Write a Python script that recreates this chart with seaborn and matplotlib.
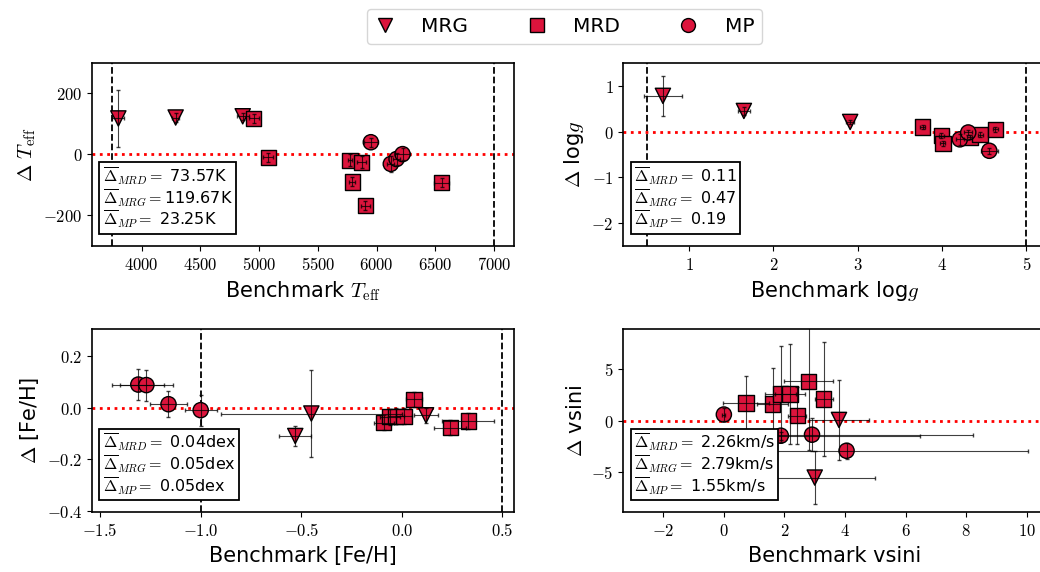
import numpy as np
import pandas as pd
import matplotlib
matplotlib.use("Agg")
import matplotlib.pyplot as plt
from matplotlib.lines import Line2D
from matplotlib.ticker import FuncFormatter
import seaborn as sns

##################################################################
# Data
##################################################################
groups = ['MRG', 'MRD', 'MP']
group_markers = {'MRG': 'v', 'MRD': 's', 'MP': 'o'}

# Teff panel
teff_group = ['MRG', 'MRG', 'MRG', 'MRD', 'MRD', 'MRD', 'MRD', 'MRD', 'MRD', 'MRD', 'MP', 'MP', 'MP', 'MP']
teff_x = [3801, 4289, 4860, 4955, 5077, 5773, 5872, 5793, 5903, 6553, 5951, 6121, 6170, 6221]
teff_y = [118, 121, 125, 118, -10, -19, -26, -90, -168, -92, 40, -31, -15, 1]
teff_xerr = [50, 30, 50, 40, 40, 20, 40, 25, 40, 60, 60, 30, 30, 60]
teff_yerr = [92, 15, 12, 15, 15, 20, 20, 15, 15, 15, 15, 25, 20, 20]

# logg panel
logg_group = ['MRG', 'MRG', 'MRG', 'MRD', 'MRD', 'MRD', 'MRD', 'MRD', 'MRD', 'MP', 'MP', 'MP']
logg_x = [0.69, 1.65, 2.91, 3.77, 3.99, 4.01, 4.33, 4.45, 4.63, 4.21, 4.31, 4.56]
logg_y = [0.78, 0.45, 0.21, 0.10, -0.09, -0.26, -0.12, -0.07, 0.05, -0.17, -0.02, -0.42]
logg_xerr = [0.23, 0.07, 0.05, 0.03, 0.03, 0.03, 0.03, 0.03, 0.03, 0.05, 0.05, 0.10]
logg_yerr = [0.44, 0.08, 0.05, 0.05, 0.05, 0.06, 0.05, 0.05, 0.05, 0.12, 0.05, 0.06]

# [Fe/H] panel
feh_group = ['MP', 'MP', 'MP', 'MP', 'MRG', 'MRG', 'MRG', 'MRD', 'MRD', 'MRD', 'MRD', 'MRD', 'MRD', 'MRD']
feh_x = [-1.31, -1.27, -1.16, -1.00, -0.53, -0.45, 0.12, -0.09, -0.06, -0.03, 0.01, 0.06, 0.24, 0.33]
feh_y = [0.089, 0.087, 0.013, -0.010, -0.11, -0.023, -0.03, -0.058, -0.036, -0.033, -0.033, 0.032, -0.078, -0.052]
feh_xerr = [0.13, 0.13, 0.09, 0.08, 0.08, 0.45, 0.06, 0.05, 0.05, 0.04, 0.04, 0.04, 0.08, 0.13]
feh_yerr = [0.06, 0.06, 0.05, 0.06, 0.04, 0.17, 0.03, 0.03, 0.03, 0.03, 0.03, 0.03, 0.03, 0.03]

# vsini panel
vsini_group = ['MP', 'MP', 'MP', 'MP', 'MRD', 'MRD', 'MRD', 'MRD', 'MRD', 'MRD', 'MRD', 'MRG', 'MRG']
vsini_x = [0.0, 1.88, 2.91, 4.05, 0.73, 1.61, 1.87, 2.18, 2.42, 2.80, 3.30, 3.80, 3.00]
vsini_y = [0.6, -1.47, -1.37, -2.94, 1.73, 1.63, 2.60, 2.60, 0.49, 3.85, 2.12, 0.07, -5.56]
vsini_xerr = [0.05, 4.6, 5.3, 6.0, 0.76, 0.5, 0.5, 0.5, 0.3, 0.8, 0.3, 1.0, 2.0]
vsini_yerr = [0.6, 0.4, 1.6, 0.8, 2.6, 3.5, 4.7, 4.9, 2.8, 6.7, 5.6, 3.9, 2.6]

# Mean offsets quoted in the boxes
teff_box = [r"$\overline{\Delta}_{MRD}=$ 73.57K", r"$\overline{\Delta}_{MRG}=$119.67K", r"$\overline{\Delta}_{MP}=$ 23.25K"]
logg_box = [r"$\overline{\Delta}_{MRD}=$ 0.11", r"$\overline{\Delta}_{MRG}=$ 0.47", r"$\overline{\Delta}_{MP}=$ 0.19"]
feh_box = [r"$\overline{\Delta}_{MRD}=$ 0.04dex", r"$\overline{\Delta}_{MRG}=$ 0.05dex", r"$\overline{\Delta}_{MP}=$ 0.05dex"]
vsini_box = [r"$\overline{\Delta}_{MRD}=$ 2.26km/s", r"$\overline{\Delta}_{MRG}=$ 2.79km/s", r"$\overline{\Delta}_{MP}=$ 1.55km/s"]

##################################################################
# Style
##################################################################
sns.set_style('ticks', {'axes.edgecolor': 'black', 'xtick.color': 'black', 'ytick.color': 'black',
                        'text.color': 'black', 'axes.labelcolor': 'black'})
plt.rcParams['font.family'] = ['DejaVu Sans']
plt.rcParams['mathtext.fontset'] = 'cm'
plt.rcParams['axes.linewidth'] = 1.2

point_color = '#DC143C'


def panel(ax, group, x, y, xerr, yerr, vlines, xlim, ylim, xlabel, ylabel, box, xfmt, yfmt):
    df = pd.DataFrame({'group': group, 'x': x, 'y': y, 'xerr': xerr, 'yerr': yerr})
    sns.scatterplot(data=df, x='x', y='y', style='group', markers=group_markers,
                    color=point_color, edgecolor='black', linewidth=1.0, s=120,
                    legend=False, ax=ax, zorder=3)
    ax.errorbar(df['x'], df['y'], xerr=df['xerr'], yerr=df['yerr'], fmt='none',
                ecolor='black', elinewidth=0.8, capsize=1.5, capthick=1.0, alpha=0.75, zorder=4)
    ax.axhline(0, color='red', linestyle=':', linewidth=2, zorder=2)
    for v in vlines:
        ax.axvline(v, color='black', linestyle='--', linewidth=1.3, zorder=1)
    ax.set_xlim(xlim)
    ax.set_ylim(ylim)
    ax.set_xlabel(xlabel, fontsize=15)
    ax.set_ylabel(ylabel, fontsize=15)
    ax.xaxis.set_major_formatter(FuncFormatter(lambda v, p: '$' + xfmt.format(v) + '$'))
    ax.yaxis.set_major_formatter(FuncFormatter(lambda v, p: '$' + yfmt.format(v) + '$'))
    ax.tick_params(axis='both', labelsize=12)
    ax.text(0.025, 0.085, '\n'.join(box), transform=ax.transAxes, fontsize=11.5,
            ha='left', va='bottom', linespacing=1.0, zorder=6,
            bbox=dict(boxstyle='square,pad=0.2', facecolor='white', edgecolor='black', linewidth=1.3))


fig = plt.figure(figsize=(10.4, 5.72), dpi=100)
ax_teff = fig.add_axes([0.0885, 0.570, 0.4055, 0.320])
ax_logg = fig.add_axes([0.5993, 0.570, 0.4055, 0.320])
ax_feh = fig.add_axes([0.0885, 0.1044, 0.4055, 0.320])
ax_vsini = fig.add_axes([0.5993, 0.1044, 0.4055, 0.320])

panel(ax_teff, teff_group, teff_x, teff_y, teff_xerr, teff_yerr, [3750, 7000],
      (3577, 7168), (-300, 300), r'Benchmark $T_{\rm eff}$', r'$\Delta$ $T_{\rm eff}$', teff_box, '{:.0f}', '{:.0f}')
panel(ax_logg, logg_group, logg_x, logg_y, logg_xerr, logg_yerr, [0.5, 5.0],
      (0.22, 5.22), (-2.5, 1.5), r'Benchmark log$g$', r'$\Delta$ log$g$', logg_box, '{:.0f}', '{:.0f}')
panel(ax_feh, feh_group, feh_x, feh_y, feh_xerr, feh_yerr, [-1.0, 0.5],
      (-1.54, 0.556), (-0.405, 0.303), 'Benchmark [Fe/H]', r'$\Delta$ [Fe/H]', feh_box, '{:.1f}', '{:.1f}')
panel(ax_vsini, vsini_group, vsini_x, vsini_y, vsini_xerr, vsini_yerr, [],
      (-3.32, 10.6), (-8.95, 8.93), 'Benchmark vsini', r'$\Delta$ vsini', vsini_box, '{:.0f}', '{:.0f}')

ax_teff.set_yticks([-200, 0, 200])
ax_logg.set_yticks([-2, -1, 0, 1])
ax_feh.set_yticks([-0.4, -0.2, 0.0, 0.2])
ax_vsini.set_yticks([-5, 0, 5])

# Figure legend along the top
handles = [Line2D([], [], linestyle='none', marker=group_markers[g], markersize=10,
                  markerfacecolor=point_color, markeredgecolor='black', markeredgewidth=1.0)
           for g in groups]
fig.legend(handles, groups, loc='center', bbox_to_anchor=(0.543, 0.9537), ncol=3, fontsize=14.5,
           handlelength=1.0, handletextpad=1.3, columnspacing=2.9, frameon=True,
           edgecolor='#cccccc', fancybox=True, borderpad=0.4)

plt.savefig('out.png', dpi=100)
